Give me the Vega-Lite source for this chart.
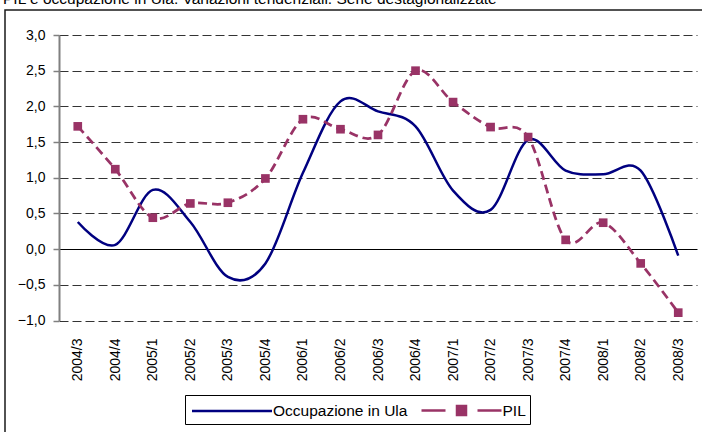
{
  "$schema": "https://vega.github.io/schema/vega-lite/v6.json",
  "autosize": "none",
  "padding": {"left": 5, "top": 10, "right": 0, "bottom": 0},
  "width": 700,
  "height": 425,
  "background": "white",
  "title": {
    "text": "PIL e occupazione in Ula. Variazioni tendenziali. Serie destagionalizzate",
    "anchor": "start",
    "font": "Liberation Sans",
    "fontSize": 15.5,
    "fontWeight": "normal",
    "color": "#000",
    "baseline": "bottom",
    "offset": -12.5,
    "dx": -2
  },
  "config": {
    "view": {"stroke": "#1a1a1a", "strokeWidth": 1.5},
    "font": "Liberation Sans"
  },
  "data": {
    "values": [
      {"period": "2004/3", "series": "Occupazione in Ula", "value": 0.38},
      {"period": "2004/4", "series": "Occupazione in Ula", "value": 0.06},
      {"period": "2005/1", "series": "Occupazione in Ula", "value": 0.83},
      {"period": "2005/2", "series": "Occupazione in Ula", "value": 0.38},
      {"period": "2005/3", "series": "Occupazione in Ula", "value": -0.39},
      {"period": "2005/4", "series": "Occupazione in Ula", "value": -0.2},
      {"period": "2006/1", "series": "Occupazione in Ula", "value": 1.07},
      {"period": "2006/2", "series": "Occupazione in Ula", "value": 2.07},
      {"period": "2006/3", "series": "Occupazione in Ula", "value": 1.93},
      {"period": "2006/4", "series": "Occupazione in Ula", "value": 1.72},
      {"period": "2007/1", "series": "Occupazione in Ula", "value": 0.82},
      {"period": "2007/2", "series": "Occupazione in Ula", "value": 0.55},
      {"period": "2007/3", "series": "Occupazione in Ula", "value": 1.53},
      {"period": "2007/4", "series": "Occupazione in Ula", "value": 1.1},
      {"period": "2008/1", "series": "Occupazione in Ula", "value": 1.05},
      {"period": "2008/2", "series": "Occupazione in Ula", "value": 1.1},
      {"period": "2008/3", "series": "Occupazione in Ula", "value": -0.09},
      {"period": "2004/3", "series": "PIL", "value": 1.72},
      {"period": "2004/4", "series": "PIL", "value": 1.12},
      {"period": "2005/1", "series": "PIL", "value": 0.44},
      {"period": "2005/2", "series": "PIL", "value": 0.64},
      {"period": "2005/3", "series": "PIL", "value": 0.65},
      {"period": "2005/4", "series": "PIL", "value": 0.99},
      {"period": "2006/1", "series": "PIL", "value": 1.82},
      {"period": "2006/2", "series": "PIL", "value": 1.68},
      {"period": "2006/3", "series": "PIL", "value": 1.6},
      {"period": "2006/4", "series": "PIL", "value": 2.5},
      {"period": "2007/1", "series": "PIL", "value": 2.06},
      {"period": "2007/2", "series": "PIL", "value": 1.71},
      {"period": "2007/3", "series": "PIL", "value": 1.57},
      {"period": "2007/4", "series": "PIL", "value": 0.13},
      {"period": "2008/1", "series": "PIL", "value": 0.37},
      {"period": "2008/2", "series": "PIL", "value": -0.2},
      {"period": "2008/3", "series": "PIL", "value": -0.89}
    ]
  },
  "encoding": {
    "x": {
      "field": "period",
      "type": "ordinal",
      "scale": {"type": "point", "range": [54, 692], "padding": 0.5},
      "axis": {
        "title": null,
        "orient": "bottom",
        "offset": -114.5,
        "domain": false,
        "ticks": false,
        "grid": false,
        "labelAngle": -90,
        "labelPadding": 17.5,
        "labelFont": "Liberation Sans",
        "labelFontSize": 14,
        "labelColor": "#000"
      }
    },
    "y": {
      "field": "value",
      "type": "quantitative",
      "scale": {"domain": [-1, 3], "range": [310.5, 25], "nice": false, "zero": false},
      "axis": {
        "title": null,
        "values": [-1, -0.5, 0, 0.5, 1, 1.5, 2, 2.5, 3],
        "offset": -54,
        "labelExpr": "replace(format(datum.value, '.1f'), '.', ',')",
        "labelFont": "Liberation Sans",
        "labelFontSize": 14,
        "labelColor": "#000",
        "labelPadding": 8,
        "tickSize": 6,
        "tickColor": "#808080",
        "tickWidth": 1.5,
        "domainColor": "#808080",
        "domainWidth": 2,
        "grid": true,
        "gridColor": {"condition": {"test": "datum.value === 0", "value": "#000"}, "value": "#333"},
        "gridDash": {"condition": {"test": "datum.value === 0", "value": []}, "value": [9, 4]},
        "gridWidth": 1
      }
    }
  },
  "layer": [
    {
      "transform": [{"filter": "datum.series === 'Occupazione in Ula'"}],
      "mark": {"type": "line", "interpolate": "cardinal", "strokeWidth": 2.5},
      "encoding": {
        "color": {
          "field": "series",
          "type": "nominal",
          "scale": {"domain": ["Occupazione in Ula", "PIL"], "range": ["#000080", "#993366"]},
          "legend": {
            "title": null,
            "orient": "none",
            "legendX": 180,
            "legendY": 385,
            "direction": "horizontal",
            "strokeColor": "#000",
            "fillColor": "#fff",
            "padding": 4,
            "columnPadding": 8.5,
            "symbolType": "stroke",
            "symbolSize": 400,
            "symbolStrokeWidth": 2.5,
            "symbolOffset": 31.5,
            "labelOffset": 29.5,
            "labelFont": "Liberation Sans",
            "labelFontSize": 15.5,
            "labelColor": "#000",
            "encode": {
              "symbols": {
                "update": {
                  "shape": {"signal": "datum.value === 'PIL' ? 'M-4,0H-1.6M-0.45,-0.45H0.45V0.45H-0.45ZM1.6,0H4' : 'M-4,0H4'"},
                  "fill": {"signal": "datum.value === 'PIL' ? '#993366' : 'transparent'"},
                  "strokeDash": {"value": []}
                }
              }
            }
          }
        }
      }
    },
    {
      "transform": [{"filter": "datum.series === 'PIL'"}],
      "mark": {"type": "line", "interpolate": "cardinal", "strokeWidth": 2.75, "strokeDash": [9, 5], "color": "#993366"},
      "encoding": {}
    },
    {
      "transform": [{"filter": "datum.series === 'PIL'"}],
      "mark": {"type": "square", "size": 75, "filled": true, "opacity": 1, "color": "#993366"},
      "encoding": {}
    }
  ]
}
